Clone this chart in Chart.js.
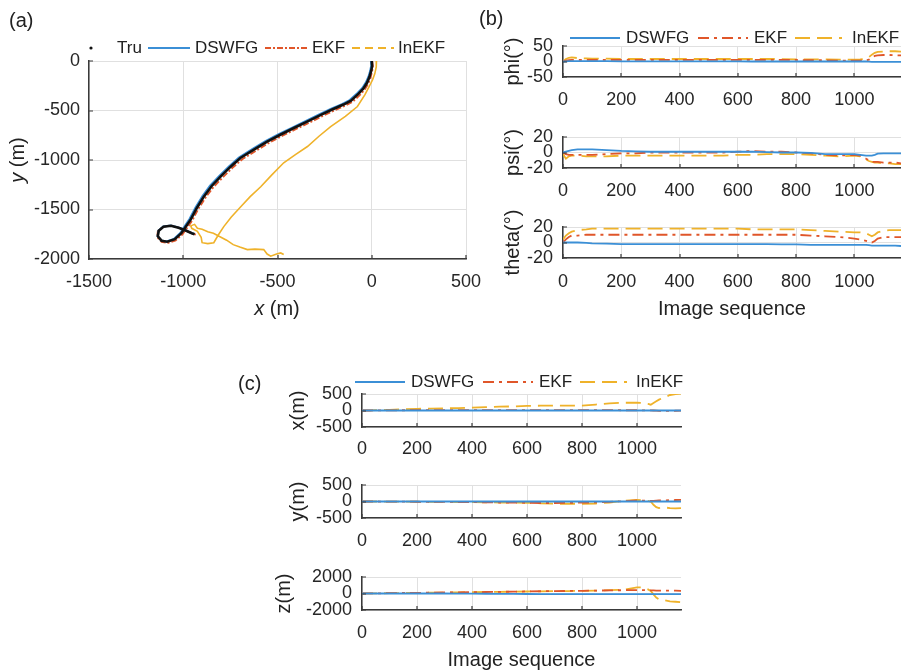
<!DOCTYPE html>
<html><head><meta charset="utf-8">
<script src="https://cdn.jsdelivr.net/npm/chart.js@4.4.1/dist/chart.umd.min.js"></script>
<style>
html,body{margin:0;padding:0;background:#fff;width:901px;height:672px;overflow:hidden;font-family:"Liberation Sans",Arial,sans-serif;color:#222;}
canvas{position:absolute;}
.t{position:absolute;white-space:nowrap;line-height:1;}
.leg{position:absolute;font-size:17px;line-height:1;white-space:nowrap;}
svg{position:absolute;overflow:visible;}
</style></head><body>
<script>
// ---------------- DATA ----------------
// Panel (a): trajectories (x, y) in metres
const truX   = [0, 2, -3, -12, -25, -45, -70, -110, -150, -210, -270, -340, -413, -485, -555, -625, -697, -750, -801, -850, -890, -928, -960, -985, -1010, -1045, -1085, -1115, -1135, -1130, -1105, -1065, -1025, -990, -955, -940];
const truY   = [0, -50, -100, -160, -220, -280, -330, -400, -440, -490, -544, -610, -677, -745, -815, -895, -980, -1070, -1165, -1265, -1368, -1485, -1600, -1670, -1740, -1800, -1825, -1815, -1770, -1715, -1675, -1665, -1685, -1710, -1740, -1750];
const dswfgX = [-4, -3, -8, -17, -31, -51, -77, -117, -158, -218, -279, -349, -422, -494, -564, -634, -705, -758, -809, -858, -898, -935, -967, -992, -1016, -1050, -1088, -1117, -1136, -1131, -1106, -1066, -1026, -991, -957, -942];
const dswfgY = [2, -48, -97, -156, -216, -275, -325, -395, -435, -485, -539, -605, -672, -740, -810, -890, -975, -1065, -1160, -1260, -1363, -1480, -1596, -1667, -1737, -1797, -1822, -1812, -1767, -1712, -1672, -1662, -1682, -1707, -1737, -1747];
const ekfX   = [3, 6, 2, -6, -18, -37, -61, -100, -139, -199, -258, -328, -401, -473, -543, -613, -685, -739, -790, -840, -881, -920, -952, -978, -1004, -1040, -1082, -1115, -1138, -1135, -1108, -1066, -1024, -987, -950, -933];
const ekfY   = [-3, -54, -105, -166, -227, -288, -339, -410, -450, -500, -554, -620, -687, -755, -825, -905, -990, -1080, -1175, -1275, -1378, -1495, -1610, -1682, -1752, -1812, -1838, -1827, -1780, -1720, -1675, -1660, -1682, -1710, -1742, -1755];
const inekfX = [25, 24, 16, 4, -14, -36, -76, -140, -218, -280, -341, -405, -467, -530, -589, -645, -695, -745, -785, -815, -838, -870, -900, -905, -925, -955, -960, -940, -925, -900, -870, -840, -805, -770, -735, -700, -660, -620, -573, -555, -536, -505, -483, -467];
const inekfY = [0, -60, -130, -190, -260, -340, -460, -560, -662, -760, -864, -945, -1028, -1150, -1270, -1370, -1472, -1575, -1673, -1760, -1835, -1845, -1835, -1780, -1720, -1690, -1665, -1650, -1690, -1700, -1725, -1740, -1775, -1810, -1855, -1880, -1905, -1900, -1905, -1950, -1972, -1950, -1939, -1955];
const trajXTicks = [-1500, -1000, -500, 0, 500];
const trajYTicks = [-2000, -1500, -1000, -500, 0];

// Panels (b), (c): image sequence index
const seqIdx = [0, 10, 20, 30, 50, 80, 100, 150, 200, 250, 300, 350, 400, 450, 500, 550, 600, 650, 700, 750, 800, 850, 900, 950, 1000, 1020, 1040, 1050, 1060, 1070, 1080, 1100, 1120, 1140, 1160];
const seqTicks = [0, 200, 400, 600, 800, 1000];

// (b) attitude errors (deg)
const phiDswfg   = [0, 0.5, 1, 1, 1, 1, 1, 1, 0.5, 0.5, 0.5, 0.5, 0.5, 0.5, 0.5, 0.5, 0.5, 0, 0, 0, 0, 0, 0, 0, 0, 0, 0, -0.5, -1, -1, -1, -1, -1, -1, -1];
const phiEkf     = [0, 3, 4, 5, 5, 5, 5, 5, 5, 5, 5, 5, 5, 5, 5, 5, 5, 5, 5, 5, 5, 4, 4, 3, 3, 3, 4, 6, 12, 18, 20, 21, 21, 20, 20];
const phiInekf   = [0, 8, 12, 13, 11, 10, 9, 9, 8, 8, 8, 8, 8, 8, 8, 8, 8, 8, 8, 8, 7, 7, 7, 6, 6, 7, 9, 14, 22, 28, 31, 32, 33, 33, 32];
const psiDswfg   = [0, 1, 2, 3, 4, 4, 4, 3, 2, 1.5, 1, 1, 1, 1, 1, 1, 1, 1, 0.5, 0, 0, -0.5, -2, -2, -2, -3, -4, -4, -4, -3, -1.5, -1, -1, -1, -1];
const psiEkf     = [0, -2, -3, -3, -3, -3, -3, -2, -1, -1, 0, 0, 0, 0, 0, 0, 1, 2, 1, 1, 0, -1, -3, -4, -3, -4, -8, -10, -12, -12, -12, -13, -13, -13, -14];
const psiInekf   = [-2, -8, -5, -4, -4, -5, -5, -5, -4, -4, -4, -4, -4, -4, -4, -4, -3, -3, -2, -2, -2, -3, -4, -5, -4, -5, -9, -11, -12, -13, -13, -14, -14, -15, -15];
const thetaDswfg = [0, 0, 0, 0, 0, -0.5, -1, -1.5, -2, -2, -2, -2, -2, -2, -2, -2, -2, -2, -2, -2.5, -2.5, -3, -3, -3, -3, -3, -3, -3.5, -4, -4, -4, -4, -4, -4, -4.5];
const thetaEkf   = [0, 4, 7, 9, 9, 10, 10, 10, 10, 10, 10, 10, 10, 10, 10, 10, 10, 10, 10, 10, 10, 9, 8, 7, 5, 4, 2, 1, 0, 2, 5, 7, 7, 7, 7];
const thetaInekf = [4, 9, 12, 14, 16, 17, 18, 18, 18, 18, 18, 18, 18, 18, 18, 18, 18, 17, 17, 17, 17, 16, 15, 14, 13, 13, 12, 10, 8, 10, 13, 15, 16, 16, 16];
const phiTicks = [-50, 0, 50];
const angTicks = [-20, 0, 20];

// (c) position errors (m)
const xDswfg = [0, 0, 0, 0, 0, 0, 0, 0, 0, 0, 0, 0, 0, 0, 0, 0, 0, 0, 0, 0, 0, 0, 0, 0, 0, 0, 0, 0, 0, 0, 0, 0, 0, 0, 0];
const xEkf   = [0, 0, 0, 0, 2, 5, 5, 8, 10, 10, 12, 12, 12, 12, 12, 12, 12, 10, 10, 10, 10, 10, 10, 8, 8, 6, 5, 5, 0, -5, -10, -10, -10, -8, -5];
const xInekf = [0, 2, 4, 6, 10, 15, 20, 35, 50, 58, 65, 75, 90, 100, 115, 125, 140, 145, 145, 150, 150, 180, 215, 235, 235, 230, 200, 176, 230, 280, 330, 400, 470, 500, 510];
const yDswfg = [0, 0, 0, 0, 0, 0, 0, 0, 0, 0, 0, 0, 0, 0, 0, 0, 0, 0, 0, 0, 0, 0, 0, 0, 0, 0, 0, 0, 0, 0, 0, 0, 0, 0, 0];
const yEkf   = [0, 0, 0, 0, 0, -2, -3, -5, -8, -10, -10, -15, -20, -25, -30, -30, -40, -45, -45, -40, -35, -25, -10, 10, 30, 25, 20, 20, 20, 25, 30, 35, 40, 45, 50];
const yInekf = [0, 0, 0, 0, 0, -2, -3, -5, -8, -10, -10, -15, -20, -25, -30, -35, -40, -55, -68, -68, -68, -60, -30, 20, 49, 40, 20, 0, -100, -170, -200, -180, -200, -210, -200];
const zDswfg = [0, 0, 0, 0, 0, 0, 0, 0, 0, 0, 0, -10, -20, -30, -40, -50, -60, -70, -70, -70, -70, -70, -70, -70, -70, -70, -70, -70, -70, -70, -70, -70, -70, -70, -70];
const zEkf   = [0, 5, 10, 15, 20, 30, 40, 60, 80, 100, 120, 140, 160, 180, 200, 220, 250, 270, 290, 310, 330, 350, 380, 400, 420, 420, 400, 380, 370, 360, 350, 350, 340, 340, 330];
const zInekf = [0, 5, 10, 15, 20, 30, 40, 60, 80, 100, 120, 140, 160, 180, 200, 220, 240, 260, 280, 300, 320, 350, 400, 450, 750, 750, 500, 300, -100, -500, -710, -800, -950, -1000, -1050];
const posTicks = [-500, 0, 500];
const zTicks = [-2000, 0, 2000];

// ---------------- STYLE ----------------
const C_BLUE = '#3b8fd6', C_RED = '#e0562a', C_YEL = '#efb22a', C_BLK = '#111';
const FONT = '"Liberation Sans", Arial, sans-serif';
const TICK_COLOR = '#262626', GRID = '#e0e0e0', AXIS = '#3a3a3a';
const DASH_EKF = [11, 5, 3, 5], DASH_IN = [15, 7];

function pts(xs, ys) { return xs.map((x, i) => ({x: x, y: ys[i]})); }
function fmt(v) { return String(v); }

function addText(txt, x, y, size) {
  const d = document.createElement('div');
  d.className = 't';
  d.innerHTML = txt;
  d.style.fontSize = size + 'px';
  d.style.left = x + 'px';
  d.style.top = y + 'px';
  document.body.appendChild(d);
  return d;
}
function centerText(html, cx, cy, size, rot) {
  const d = document.createElement('div');
  d.className = 't';
  d.innerHTML = html;
  d.style.fontSize = size + 'px';
  d.style.left = cx + 'px';
  d.style.top = cy + 'px';
  d.style.transform = 'translate(-50%,-50%)' + (rot ? ' rotate(-90deg)' : '');
  document.body.appendChild(d);
}
function legend(items, cy) {
  items.forEach(it => {
    const s = document.createElementNS('http://www.w3.org/2000/svg', 'svg');
    s.setAttribute('height', 10);
    s.style.left = '0px'; s.style.top = (cy - 5) + 'px';
    if (it.dot) {
      const c = document.createElementNS(s.namespaceURI, 'circle');
      c.setAttribute('cx', it.x0); c.setAttribute('cy', 5); c.setAttribute('r', 1.6);
      c.setAttribute('fill', it.color);
      s.appendChild(c);
      s.setAttribute('width', it.x0 + 5);
    } else {
      s.setAttribute('width', it.x1 + 5);
      const l = document.createElementNS(s.namespaceURI, 'line');
      l.setAttribute('x1', it.x0); l.setAttribute('x2', it.x1);
      l.setAttribute('y1', 5); l.setAttribute('y2', 5);
      l.setAttribute('stroke', it.color); l.setAttribute('stroke-width', 2);
      if (it.dash) l.setAttribute('stroke-dasharray', it.dash.join(' '));
      s.appendChild(l);
    }
    document.body.appendChild(s);
    const t = document.createElement('div');
    t.className = 'leg';
    t.textContent = it.label;
    t.style.left = it.tx + 'px';
    t.style.top = (cy - 9) + 'px';
    document.body.appendChild(t);
  });
}

// MATLAB-style inward tick marks
const inTicks = {
  id: 'inTicks',
  afterDatasetsDraw(chart) {
    const ctx = chart.ctx, a = chart.chartArea, L = 4;
    const sx = chart.scales.x, sy = chart.scales.y;
    ctx.save();
    ctx.strokeStyle = AXIS; ctx.lineWidth = 1.2;
    ctx.beginPath();
    sx.ticks.forEach(t => { const p = Math.round(sx.getPixelForValue(t.value)); ctx.moveTo(p, a.bottom); ctx.lineTo(p, a.bottom - L); });
    sy.ticks.forEach(t => { const p = Math.round(sy.getPixelForValue(t.value)); ctx.moveTo(a.left, p); ctx.lineTo(a.left + L, p); });
    ctx.stroke();
    ctx.restore();
  }
};

function makeChart(g) {
  const c = document.createElement('canvas');
  const top = g.t - g.padTop;
  const w = g.cr - g.cl, h = g.padTop + (g.b - g.t) + g.xAxisH;
  c.width = w; c.height = h;
  c.style.left = g.cl + 'px'; c.style.top = top + 'px';
  c.style.width = w + 'px'; c.style.height = h + 'px';
  document.body.appendChild(c);
  const tickFont = {family: FONT, size: 18};
  const titleFont = {family: FONT, size: 20, lineHeight: 1};
  return new Chart(c, {
    type: 'scatter',
    data: {datasets: g.datasets},
    plugins: [inTicks],
    options: {
      responsive: false, animation: false, devicePixelRatio: 1,
      layout: {padding: {left: 0, top: g.padTop, right: g.cr - g.r, bottom: 0}},
      plugins: {legend: {display: false}, tooltip: {enabled: false}},
      elements: {point: {radius: 0}, line: {tension: 0}},
      scales: {
        x: {
          type: 'linear', min: g.xMin, max: g.xMax,
          afterBuildTicks: s => { s.ticks = g.xTicks.map(v => ({value: v})); },
          afterFit: s => { s.height = g.xAxisH; },
          ticks: {padding: g.xPad, font: tickFont, color: TICK_COLOR, maxRotation: 0, minRotation: 0, autoSkip: false, callback: fmt},
          grid: {color: GRID, drawTicks: false, lineWidth: 1},
          border: {color: AXIS, width: 1.5},
          title: g.xTitle ? {display: true, text: g.xTitle, font: titleFont, color: '#222', padding: {top: 0, bottom: g.xTitlePad}} : {display: false}
        },
        y: {
          type: 'linear', min: g.yMin, max: g.yMax,
          afterBuildTicks: s => { s.ticks = g.yTicks.map(v => ({value: v})); },
          afterFit: s => { s.width = g.l - g.cl; },
          ticks: {padding: g.yPad, font: tickFont, color: TICK_COLOR, autoSkip: false, callback: fmt},
          grid: {color: GRID, drawTicks: false, lineWidth: 1},
          border: {color: AXIS, width: 1.5},
          title: g.yTitle ? {display: true, text: g.yTitle, font: titleFont, color: '#222', padding: {top: g.yTitlePad, bottom: 0}} : {display: false}
        }
      }
    }
  });
}

function seriesSet(d, e, i) {
  return [
    {data: pts(seqIdx, d), showLine: true, borderColor: C_BLUE, borderWidth: 1.8, pointRadius: 0},
    {data: pts(seqIdx, e), showLine: true, borderColor: C_RED, borderWidth: 1.8, borderDash: DASH_EKF, pointRadius: 0},
    {data: pts(seqIdx, i), showLine: true, borderColor: C_YEL, borderWidth: 1.8, borderDash: DASH_IN, pointRadius: 0}
  ];
}

// ---------------- PANEL (a) ----------------
makeChart({
  l: 89, t: 61, r: 466, b: 259, cl: 0, cr: 496, padTop: 24, xAxisH: 62,
  xMin: -1500, xMax: 500, xTicks: trajXTicks, yMin: -2000, yMax: 0, yTicks: trajYTicks, xPad: 12, yPad: 9,
  datasets: [
    {data: pts(truX, truY), showLine: true, borderColor: C_BLK, borderWidth: 2.6, pointRadius: 0},
    {data: pts(dswfgX, dswfgY), showLine: true, borderColor: C_BLUE, borderWidth: 2, pointRadius: 0},
    {data: pts(ekfX, ekfY), showLine: true, borderColor: C_RED, borderWidth: 1.8, borderDash: [6, 2, 2, 2], pointRadius: 0},
    {data: pts(inekfX, inekfY), showLine: true, borderColor: C_YEL, borderWidth: 1.6, pointRadius: 0}
  ]
});
centerText('<i>x</i> (m)', 277, 308, 20);
centerText('<i>y</i> (m)', 17, 160, 20, true);
addText('(a)', 9, 10, 20);
legend([
  {dot: true, x0: 91, color: C_BLK, label: 'Tru', tx: 117},
  {x0: 148, x1: 190, color: C_BLUE, label: 'DSWFG', tx: 195},
  {x0: 265, x1: 307, color: C_RED, dash: [6, 2, 2, 2], label: 'EKF', tx: 312},
  {x0: 352, x1: 394, color: C_YEL, dash: [8, 5], label: 'InEKF', tx: 398}
], 48);

// ---------------- PANEL (b) ----------------
const B = {l: 563, r: 901, cl: 480, cr: 901, xMin: 0, xMax: 1160, xTicks: seqTicks, xPad: 12, yPad: 10, yTitlePad: 23, padTop: 24};
makeChart(Object.assign({}, B, {t: 46, b: 77, xAxisH: 35, yMin: -50, yMax: 50, yTicks: phiTicks, yTitle: 'phi(°)',
  datasets: seriesSet(phiDswfg, phiEkf, phiInekf)}));
makeChart(Object.assign({}, B, {t: 137, b: 168, xAxisH: 35, yMin: -20, yMax: 20, yTicks: angTicks, yTitle: 'psi(°)',
  datasets: seriesSet(psiDswfg, psiEkf, psiInekf)}));
makeChart(Object.assign({}, B, {t: 227, b: 258, xAxisH: 62, yMin: -20, yMax: 20, yTicks: angTicks, yTitle: 'theta(°)', xPad: 13,
  xTitle: 'Image sequence', xTitlePad: 1, datasets: seriesSet(thetaDswfg, thetaEkf, thetaInekf)}));
addText('(b)', 479, 8, 20);
legend([
  {x0: 570, x1: 620, color: C_BLUE, label: 'DSWFG', tx: 626},
  {x0: 698, x1: 748, color: C_RED, dash: DASH_EKF, label: 'EKF', tx: 754},
  {x0: 795, x1: 842, color: C_YEL, dash: DASH_IN, label: 'InEKF', tx: 852}
], 38);

// ---------------- PANEL (c) ----------------
const Cc = {l: 362, r: 681, cl: 270, cr: 700, xMin: 0, xMax: 1160, xTicks: seqTicks, xPad: 12, yPad: 10, padTop: 24};
makeChart(Object.assign({}, Cc, {t: 394, b: 427, xAxisH: 35, xPad: 11, yMin: -500, yMax: 500, yTicks: posTicks, yTitle: 'x(m)', yTitlePad: 18,
  datasets: seriesSet(xDswfg, xEkf, xInekf)}));
makeChart(Object.assign({}, Cc, {t: 485, b: 518, xAxisH: 35, yMin: -500, yMax: 500, yTicks: posTicks, yTitle: 'y(m)', yTitlePad: 18,
  datasets: seriesSet(yDswfg, yEkf, yInekf)}));
makeChart(Object.assign({}, Cc, {t: 577, b: 610, xAxisH: 62, yMin: -2000, yMax: 2000, yTicks: zTicks, yTitle: 'z(m)', yTitlePad: 4,
  xTitle: 'Image sequence', xTitlePad: 2, datasets: seriesSet(zDswfg, zEkf, zInekf)}));
addText('(c)', 238, 373, 20);
legend([
  {x0: 355, x1: 405, color: C_BLUE, label: 'DSWFG', tx: 411},
  {x0: 483, x1: 533, color: C_RED, dash: DASH_EKF, label: 'EKF', tx: 539},
  {x0: 580, x1: 627, color: C_YEL, dash: DASH_IN, label: 'InEKF', tx: 636}
], 382);
</script>
</body></html>
